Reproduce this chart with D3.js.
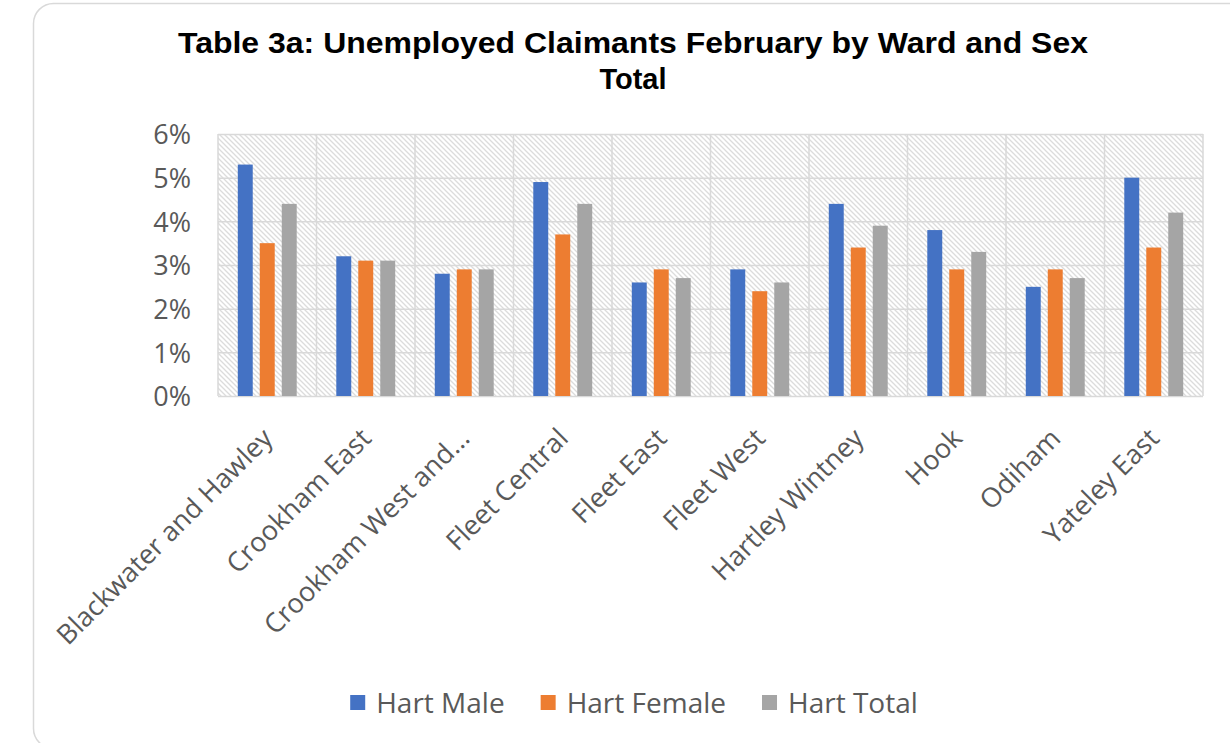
<!DOCTYPE html>
<html>
<head>
<meta charset="utf-8">
<script src="https://cdn.jsdelivr.net/npm/d3@7"></script>
<style>
  html, body { margin: 0; padding: 0; background: #fff; }
  svg { display: block; }
</style>
</head>
<body>
<div id="chart"></div>
<script>
(function() {
    'use strict';

    var wards = ["Blackwater and Hawley", "Crookham East", "Crookham West and...", "Fleet Central",
                 "Fleet East", "Fleet West", "Hartley Wintney", "Hook", "Odiham", "Yateley East"];
    var seriesNames = ["Hart Male", "Hart Female", "Hart Total"];
    var maleValues   = [5.3, 3.2, 2.8, 4.9, 2.6, 2.9, 4.4, 3.8, 2.5, 5.0];
    var femaleValues = [3.5, 3.1, 2.9, 3.7, 2.9, 2.4, 3.4, 2.9, 2.9, 3.4];
    var totalValues  = [4.4, 3.1, 2.9, 4.4, 2.7, 2.6, 3.9, 3.3, 2.7, 4.2];
    var yTicks = [0, 1, 2, 3, 4, 5, 6];
    var colours = ["#4472c4", "#ed7d31", "#a5a5a5"];

    var width = 1230, height = 743;
    var plot = {left: 218, right: 1203, top: 134, bottom: 396};
    var textGrey = "#595959";
    var gridGrey = "#d9d9d9";
    var labelFont = "'Open Sans', sans-serif";
    var legendSquareSize = 15;

    var data = wards.map(function(w, i) {
        return {key: w, values: [maleValues[i], femaleValues[i], totalValues[i]]};
    });

    var svg = d3.select("#chart").append("svg")
        .attr("width", width)
        .attr("height", height);

    // hatched plot background
    var defs = svg.append("defs");
    var pat = defs.append("pattern")
        .attr("id", "hatch")
        .attr("patternUnits", "userSpaceOnUse")
        .attr("width", 5)
        .attr("height", 5);
    pat.append("rect").attr("width", 5).attr("height", 5).attr("fill", "#fff");
    pat.append("path")
        .attr("d", "M-1,-1 L6,6 M-1,4 L1,6 M4,-1 L6,1")
        .attr("stroke", "#dcdcdc")
        .attr("stroke-width", 1.3);

    // card outline
    svg.append("rect")
        .attr("x", 33.5).attr("y", 3.5)
        .attr("width", 1240).attr("height", 745)
        .attr("rx", 20).attr("ry", 20)
        .attr("fill", "#fff")
        .attr("stroke", "#d9d9d9")
        .attr("stroke-width", 1.5);

    var x0 = d3.scaleBand()
        .domain(wards)
        .range([plot.left, plot.right])
        .paddingInner(0)
        .paddingOuter(0);

    var x1 = d3.scaleBand()
        .domain(seriesNames)
        .range([0, x0.bandwidth()])
        .paddingInner(0.32)
        .paddingOuter(0.9);

    var y = d3.scaleLinear()
        .domain([0, 6])
        .range([plot.bottom, plot.top]);

    svg.append("rect")
        .attr("x", plot.left).attr("y", plot.top)
        .attr("width", plot.right - plot.left)
        .attr("height", plot.bottom - plot.top)
        .attr("fill", "url(#hatch)");

    // horizontal grid
    svg.append("g")
        .attr("class", "grid")
        .attr("transform", "translate(" + plot.left + ",0)")
        .call(d3.axisLeft(y).tickValues(yTicks).tickSize(-(plot.right - plot.left)).tickFormat(""))
        .call(g => g.select(".domain").remove())
        .selectAll("line")
        .style("stroke", gridGrey)
        .style("stroke-width", 1.5);

    // vertical grid at category boundaries
    var bounds = wards.map(w => x0(w)).concat([plot.right]);
    svg.append("g")
        .attr("class", "vgrid")
        .selectAll("line")
        .data(bounds)
        .enter().append("line")
        .attr("x1", d => d).attr("x2", d => d)
        .attr("y1", plot.top).attr("y2", plot.bottom)
        .style("stroke", gridGrey)
        .style("stroke-width", 1.5);

    // bars
    svg.selectAll(".ward")
        .data(data)
        .enter().append("g")
        .attr("class", "ward")
        .attr("transform", d => "translate(" + x0(d.key) + ",0)")
        .selectAll("rect")
        .data(d => d.values.map((v, i) => ({name: seriesNames[i], value: v, i: i})))
        .enter().append("rect")
        .attr("x", d => x1(d.name))
        .attr("y", d => y(d.value))
        .attr("width", x1.bandwidth())
        .attr("height", d => y(0) - y(d.value))
        .attr("fill", d => colours[d.i]);

    // y axis labels
    var yAxis = svg.append("g")
        .attr("class", "y-axis")
        .attr("transform", "translate(" + (plot.left - 27) + ",0)")
        .call(d3.axisLeft(y).tickValues(yTicks).tickSize(0).tickFormat(d => d + "%"));
    yAxis.select(".domain").remove();
    yAxis.selectAll("text")
        .attr("x", 0)
        .attr("dy", "0.36em")
        .style("font-family", labelFont)
        .style("font-size", "27px")
        .style("fill", textGrey);

    // x axis labels
    var xAxis = svg.append("g")
        .attr("class", "x-axis")
        .attr("transform", "translate(0," + plot.bottom + ")")
        .call(d3.axisBottom(x0).tickSize(0));
    xAxis.select(".domain").remove();
    xAxis.selectAll("text")
        .attr("y", 0)
        .attr("dy", 0)
        .style("text-anchor", "end")
        .style("font-family", labelFont)
        .style("font-size", "27px")
        .style("fill", textGrey)
        .attr("transform", "translate(7,44) rotate(-45)");

    // title
    var title = svg.append("text")
        .attr("x", 633)
        .attr("text-anchor", "middle")
        .style("font-family", "'Liberation Sans', Arial, sans-serif")
        .style("font-weight", "bold")
        .style("font-size", "29px")
        .style("fill", "#000");
    title.append("tspan").attr("x", 633).attr("y", 53)
        .attr("textLength", 910)
        .attr("lengthAdjust", "spacingAndGlyphs")
        .text("Table 3a: Unemployed Claimants February by Ward and Sex");
    title.append("tspan").attr("x", 633).attr("y", 89)
        .text("Total");

    // legend, laid out from text widths and centred
    var legend = svg.append("g").attr("class", "legend");
    var items = legend.selectAll("g")
        .data(seriesNames)
        .enter().append("g");
    items.append("rect")
        .attr("width", legendSquareSize).attr("height", legendSquareSize)
        .attr("fill", (d, i) => colours[i]);
    items.append("text")
        .attr("x", legendSquareSize + 11)
        .attr("y", 18)
        .style("font-family", labelFont)
        .style("font-size", "28px")
        .style("fill", textGrey)
        .text(d => d);

    var cursor = 0;
    items.each(function() {
        var g = d3.select(this);
        g.attr("transform", "translate(" + cursor + ",0)");
        cursor += legendSquareSize + 11 + g.select("text").node().getComputedTextLength() + 36;
    });
    var legendWidth = cursor - 36;
    legend.attr("transform", "translate(" + (634 - legendWidth / 2) + ",695)");
})();
</script>
</body>
</html>
